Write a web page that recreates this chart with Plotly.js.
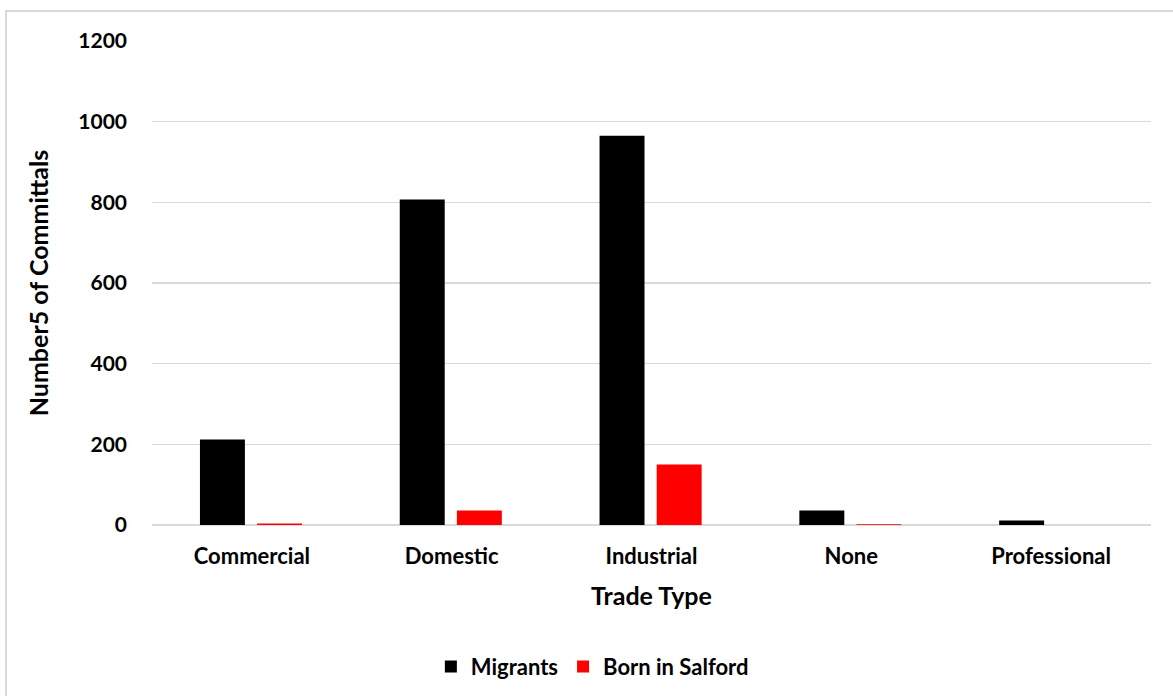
<!DOCTYPE html>
<html>
<head>
<meta charset="utf-8">
<script src="https://cdn.plot.ly/plotly-3.0.1.min.js"></script>
<style>
  html, body { margin: 0; padding: 0; background: #ffffff; }
  #frame {
    position: absolute; left: 5px; top: 10px; width: 1180px; height: 700px;
    border-left: 2px solid #d9d9d9; border-top: 2px solid #d9d9d9;
  }
  #chart { position: absolute; left: 0; top: 0; width: 1173px; height: 696px; }
</style>
</head>
<body>
<div id="frame"></div>
<div id="chart"></div>
<script>
// Committals by trade type, split by place of birth
const tradeTypes = ["Commercial", "Domestic", "Industrial", "None", "Professional"];
const migrants = [212, 807, 965, 36, 11];
const bornInSalford = [4, 36, 150, 2, 0];
const yTicks = [0, 200, 400, 600, 800, 1000, 1200];

const FONT = "Lato, 'Open Sans', sans-serif";
const BAR_WIDTH = 0.225;

const traces = [
  {
    type: "bar", name: "Migrants", x: tradeTypes, y: migrants,
    width: BAR_WIDTH, offset: -0.26,
    marker: { color: "#000000" }, hoverinfo: "x+y+name"
  },
  {
    type: "bar", name: "Born in Salford", x: tradeTypes, y: bornInSalford,
    width: BAR_WIDTH, offset: 0.026,
    marker: { color: "#ff0000" }, hoverinfo: "x+y+name"
  }
];

const layout = {
  width: 1173, height: 696,
  margin: { l: 152, r: 22, t: 41, b: 171 },
  paper_bgcolor: "rgba(0,0,0,0)",
  plot_bgcolor: "rgba(0,0,0,0)",
  barmode: "group",
  font: { family: FONT, size: 22, color: "#000000", weight: "bold" },
  xaxis: {
    type: "category",
    tickfont: { family: FONT, size: 22, color: "#000000", weight: "bold" },
    showgrid: false, showline: false, zeroline: false,
    ticks: "", ticklabelstandoff: 16,
    title: { text: "Trade Type", font: { family: FONT, size: 25, color: "#000000", weight: "bold" }, standoff: 19 }
  },
  yaxis: {
    range: [0, 1200],
    tickvals: yTicks, ticktext: yTicks.map(String),
    tickfont: { family: FONT, size: 21, color: "#000000", weight: "bold" },
    showgrid: true, gridcolor: "#d9d9d9", gridwidth: 1.3,
    zeroline: true, zerolinecolor: "#d9d9d9", zerolinewidth: 1.5,
    showline: false, ticks: "", ticklabelstandoff: 24,
    title: { text: "Number5 of Committals", font: { family: FONT, size: 25, color: "#000000", weight: "bold" }, standoff: 22 }
  },
  legend: {
    orientation: "h", xref: "container", yref: "container",
    x: 0.505, xanchor: "center", y: 0.042, yanchor: "middle",
    font: { family: FONT, size: 22, color: "#000000", weight: "bold" },
    tracegroupgap: 0
  },
  showlegend: true
};

Plotly.newPlot("chart", traces, layout, { displayModeBar: false, staticPlot: true });
</script>
</body>
</html>
